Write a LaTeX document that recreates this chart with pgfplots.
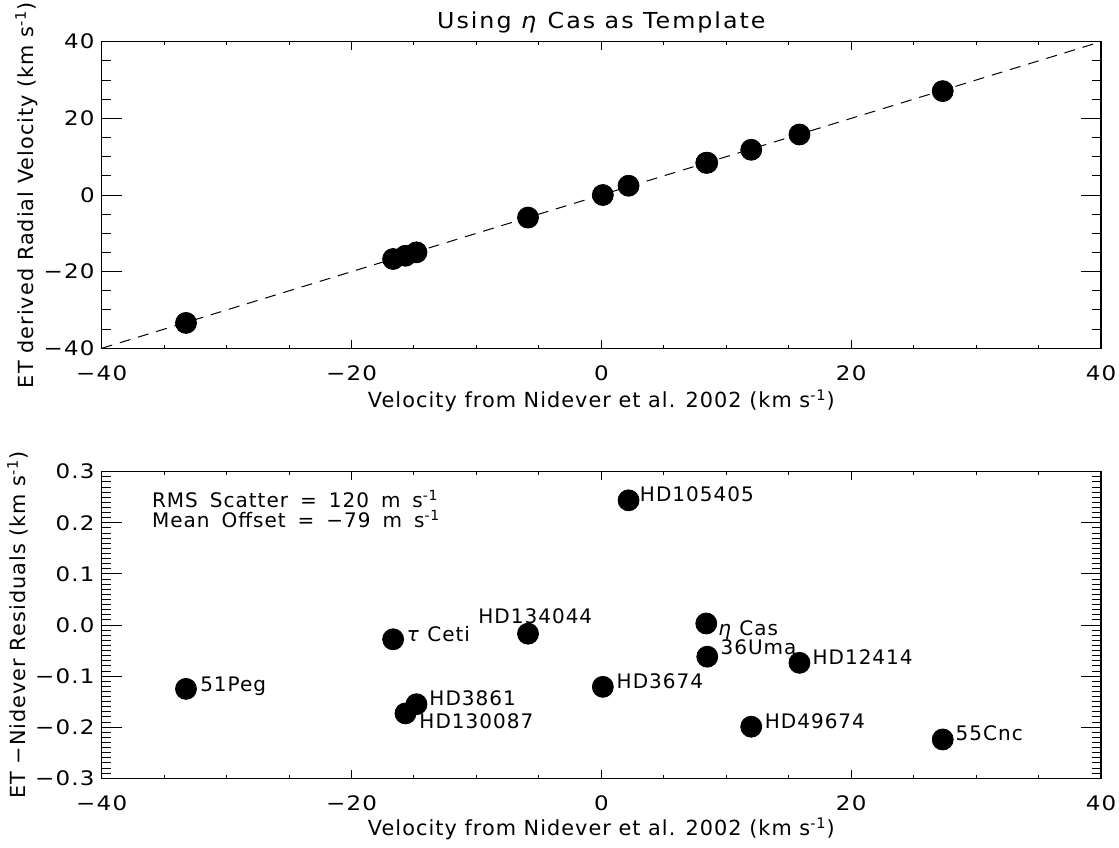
\documentclass[border=0pt]{standalone}
\usepackage{fontspec}
\setmainfont{DejaVu Sans}[LetterSpace=5]
\newfontfamily\tickfont{DejaVu Sans}[FakeStretch=1.15, LetterSpace=6]
\newfontfamily\titlefont{DejaVu Sans}[FakeStretch=1.08, LetterSpace=9]
\usepackage{pgfplots}
\pgfplotsset{compat=1.18}
\pgfplotstableread{
x y r
-33.25 -33.38 -0.125
-16.67 -16.70 -0.028
-15.68 -15.85 -0.173
-14.80 -14.96 -0.155
-5.87 -5.89 -0.017
0.12 0.00 -0.121
2.18 2.42 0.244
8.40 8.40 0.003
8.48 8.42 -0.062
12.00 11.80 -0.199
15.86 15.79 -0.074
27.33 27.11 -0.224
}\stars
\tikzset{
 xlab/.style={anchor=base, font=\fontsize{10.4bp}{12bp}\selectfont},
 ylab/.style={rotate=90, anchor=base, font=\fontsize{10.4bp}{12bp}\selectfont},
}
\begin{document}
\fontsize{10bp}{12bp}\selectfont
\begin{tikzpicture}
\useasboundingbox (0,0) rectangle (559.5bp,-424bp);
\pgfplotsset{
 common/.style={
  scale only axis, width=499.65bp, height=153.3bp,
  xmin=-40, xmax=40, xtick={-40,-20,0,20,40}, xticklabels={−40,−20,0,20,40},
  minor x tick num=3,
  clip=false,
  axis line style={line width=0.6bp},
  tick style={line width=0.5bp, black},
  xtick style={/pgfplots/major tick length=4bp,/pgfplots/minor tick length=1.8bp},
  ytick style={/pgfplots/major tick length=10bp,/pgfplots/minor tick length=4.7bp},
  tick label style={font=\tickfont\fontsize{10bp}{12bp}\selectfont},
  xticklabel style={yshift=-5bp},
  tick align=inside,
 },
}
\begin{axis}[common, at={(50.85bp,-174.15bp)}, anchor=south west,
  ymin=-40, ymax=40, ytick={-40,-20,0,20,40}, yticklabels={−40,−20,0,20,40},
  minor y tick num=3]
\addplot[black, line width=0.5bp, dash pattern=on 5.5bp off 4bp] coordinates {(-40,-40) (40,40)};
\addplot[only marks, mark=*, mark size=5.25bp, black] table[x=x,y=y] {\stars};
\node[anchor=base, yshift=6.8bp, font=\titlefont\fontsize{11bp}{13bp}\selectfont] at (rel axis cs:0.5,1) {Using \textit{η} Cas as Template};
\node[xlab, yshift=-29.5bp] at (rel axis cs:0.5,0) {Velocity from Nidever et al. 2002 (km s\textsuperscript{-1})};
\node[xshift=-34.3bp, ylab] at (rel axis cs:0,0.5) {ET derived Radial Velocity (km s\textsuperscript{-1})};
\end{axis}
\begin{axis}[common, at={(50.85bp,-389.15bp)}, anchor=south west,
  ymin=-0.3, ymax=0.3, ytick={-0.3,-0.2,-0.1,0,0.1,0.2,0.3},
  yticklabels={−0.3,−0.2,−0.1,0.0,0.1,0.2,0.3},
  minor y tick num=9]
\addplot[only marks, mark=*, mark size=5.25bp, black] table[x=x,y=r] {\stars};
\node[xlab, yshift=-28.5bp] at (rel axis cs:0.5,0) {Velocity from Nidever et al. 2002 (km s\textsuperscript{-1})};
\node[xshift=-38.3bp, ylab] at (rel axis cs:0,0.5) {ET −Nidever Residuals (km s\textsuperscript{-1})};
\node[anchor=base west, inner sep=0pt] at (axis cs:-36.0,0.2303) {\spaceskip=6bp RMS Scatter = 120 m s\textsuperscript{-1}};
\node[anchor=base west, inner sep=0pt] at (axis cs:-36.0,0.1912) {\spaceskip=6bp Mean Offset = −79 m s\textsuperscript{-1}};
\begin{scope}[every node/.style={anchor=base west, inner sep=0pt}]
\node at (axis cs:-32.14,-0.1303) {51Peg};
\node at (axis cs:-15.6,-0.0325) {\textit{τ} Ceti};
\node at (axis cs:-9.87,0.0022) {HD134044};
\node at (axis cs:-13.79,-0.1577) {HD3861};
\node at (axis cs:-14.59,-0.2033) {HD130087};
\node at (axis cs:1.2,-0.1239) {HD3674};
\node at (axis cs:3.06,0.2415) {HD105405};
\node at (axis cs:9.33,-0.0200) {\textit{η} Cas};
\node at (axis cs:9.52,-0.0570) {36Uma};
\node at (axis cs:16.88,-0.0769) {HD12414};
\node at (axis cs:13.06,-0.2027) {HD49674};
\node at (axis cs:28.34,-0.2262) {55Cnc};
\end{scope}
\end{axis}
\end{tikzpicture}
\end{document}
